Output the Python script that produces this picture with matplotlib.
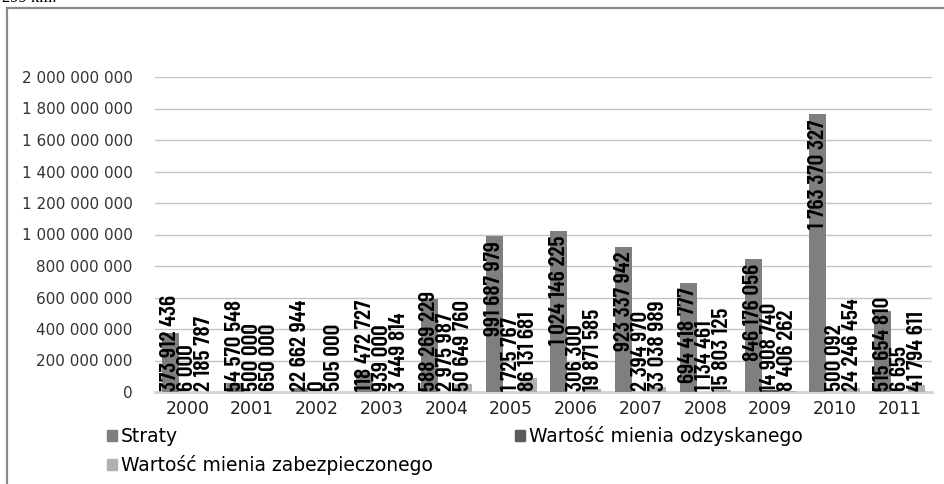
import matplotlib
matplotlib.use('Agg')
import matplotlib.pyplot as plt
import numpy as np
from matplotlib import font_manager
from matplotlib.lines import Line2D
from matplotlib.patches import Patch
import matplotlib.transforms as mtransforms

years = ['2000', '2001', '2002', '2003', '2004', '2005', '2006', '2007', '2008', '2009', '2010', '2011']
straty = [373912436, 54570548, 22662944, 118472727, 588269229, 991687979,
          1024146225, 923337942, 694418777, 846176056, 1763370327, 515654810]
odzyskane = [6000, 500000, 0, 939000, 2975987, 1725767,
             306300, 2394970, 1134461, 14908740, 500092, 6655]
zabezpieczone = [2185787, 650000, 505000, 3449814, 50649760, 86131681,
                 19871585, 33038989, 15803125, 8406262, 24246454, 41794611]
series_names = ['Straty', 'Wartość mienia odzyskanego', 'Wartość mienia zabezpieczonego']
series_colors = ['#7f7f7f', '#5c5c5c', '#b0b0b0']
y_ticks = [0, 200000000, 400000000, 600000000, 800000000, 1000000000,
           1200000000, 1400000000, 1600000000, 1800000000, 2000000000]

names = {f.name for f in font_manager.fontManager.ttflist}
if 'Liberation Sans Narrow' in names:
    label_font = dict(family='Liberation Sans Narrow', fontweight='bold', fontsize=15.5)
elif 'Barlow Condensed' in names:
    label_font = dict(family='Barlow Condensed', fontweight='semibold', fontsize=17)
else:
    label_font = dict(family='DejaVu Sans', fontstretch='condensed', fontweight='bold', fontsize=12)


def fmt(v):
    return f"{int(v):,}".replace(',', ' ')


W, H = 945, 484
fig = plt.figure(figsize=(W / 100, H / 100), dpi=100)
ax = fig.add_axes([155 / W, (H - 392) / H, (932 - 155) / W, (392 - 77) / H])

x = np.arange(len(years))
bw = 0.262
offsets = [-bw, 0, bw]
all_series = [straty, odzyskane, zabezpieczone]
containers = []
for vals, off, col in zip(all_series, offsets, series_colors):
    containers.append(ax.bar(x + off, vals, bw, color=col, zorder=2))

ax.set_xlim(-0.5, len(years) - 0.5)
ax.set_ylim(0, 2.0e9)
ax.set_yticks(y_ticks)
ax.set_yticklabels([fmt(v) for v in y_ticks])
ax.set_xticks(x)
ax.set_xticklabels(years)
ax.yaxis.grid(True, color='#c4c4c4', lw=1.0, zorder=0)
ax.set_axisbelow(True)
for s in ['top', 'right', 'left']:
    ax.spines[s].set_visible(False)
ax.spines['bottom'].set_color('#d4d4d4')
ax.spines['bottom'].set_linewidth(2)
ax.spines['bottom'].set_zorder(1)
ax.tick_params(axis='y', length=0, pad=16, labelsize=11, labelcolor='#333333')
ax.tick_params(axis='x', length=0, pad=6, labelsize=12.5, labelcolor='#222222')

# data labels
down = mtransforms.offset_copy(ax.transData, fig=fig, x=0, y=-5, units='dots')
up = mtransforms.offset_copy(ax.transData, fig=fig, x=0, y=1, units='dots')
texts = []
for vals, cont in zip(all_series, containers):
    for v, rect in zip(vals, cont):
        xc = rect.get_x() + rect.get_width() / 2
        t = ax.text(xc, v, fmt(v), rotation=90, ha='center', va='top',
                    transform=down, color='black', zorder=5, **label_font)
        texts.append((t, xc))

fig.canvas.draw()
renderer = fig.canvas.get_renderer()
base_px = ax.transData.transform((0, 0))[1]
for t, xc in texts:
    bb = t.get_window_extent(renderer)
    if bb.y0 < base_px + 1:
        t.set_transform(up)
        t.set_position((xc, 0))
        t.set_va('bottom')

# legend
handles = [Patch(color=series_colors[0]), Patch(color=series_colors[2]), Patch(color=series_colors[1])]
labels = [series_names[0], series_names[2], series_names[1]]
fig.legend(handles, labels, ncol=2, loc='upper left', bbox_to_anchor=(107 / W, 1 - 426 / H),
           frameon=False, fontsize=13.5, handlelength=0.55, handleheight=0.55,
           handletextpad=0.2, labelspacing=0.5, columnspacing=4.35, borderpad=0,
           borderaxespad=0)

# outer frame
fig.add_artist(Line2D([7 / W, 7 / W], [0, 1 - 8 / H], transform=fig.transFigure, color='#8a8a8a', lw=1.6))
fig.add_artist(Line2D([7 / W, 1], [1 - 8 / H, 1 - 8 / H], transform=fig.transFigure, color='#8a8a8a', lw=1.6))

# clipped caption from the surrounding page
fig.text(2 / W, 1 - 2 / H, '299 km.', family='Liberation Serif', fontsize=12, va='baseline', ha='left')

fig.savefig('out.png', dpi=100)
